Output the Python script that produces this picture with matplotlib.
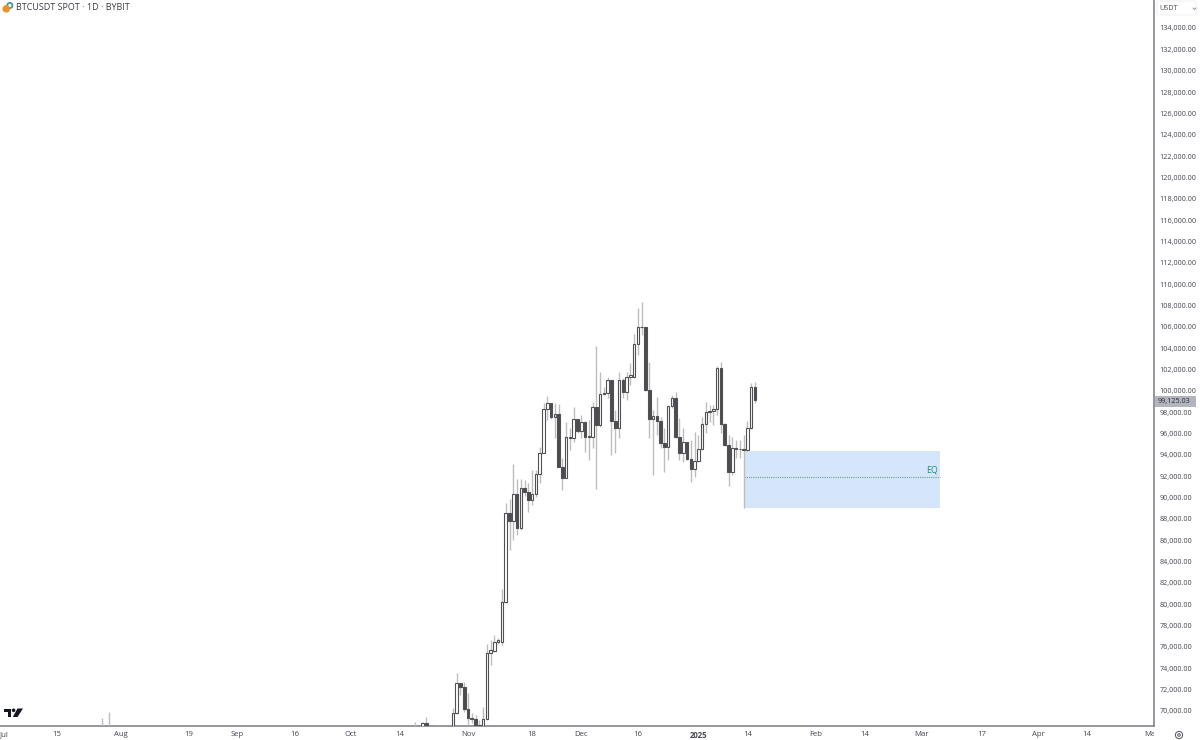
import matplotlib
matplotlib.use('Agg')
import matplotlib.pyplot as plt
import matplotlib.dates as mdates
from matplotlib.patches import Circle, Polygon, Rectangle, FancyBboxPatch
from matplotlib.transforms import Bbox
import pandas as pd

plt.rcParams['font.family'] = ['Open Sans', 'DejaVu Sans']

# daily candles, 28 Oct 2024 - 16 Jan 2025
dates = pd.date_range('2024-10-28', '2025-01-16')
opens = [
    68300, 69840, 72595, 72277,
    70159, 69372, 69222, 68700, 67800, 69279, 75463, 75650, 76437, 76494,
    80242, 88580, 87803, 90305, 87119, 90868, 90493, 89771, 90333, 92179,
    94203, 98270, 98832, 97520, 97829, 92891, 91860, 95702, 95552, 97332,
    96264, 97107, 95702, 95702, 98485, 96798, 99675, 99825, 101015, 97202,
    96489, 101015, 99918, 101323, 101323, 104360, 105953, 106009, 100078, 97360,
    97669, 97173, 95084, 94765, 98579, 99357, 95645, 94203, 95177, 93612, 92648,
    93453, 94521, 96919, 98044, 98138, 98270, 102168, 96863, 94924, 92423,
    94671, 94549, 94521, 94456, 96489, 100387,
]
closes = [
    69840, 72595, 72277, 70159,
    69372, 69222, 68700, 67800, 69279, 75463, 75716, 76437, 76625, 80242,
    88580, 87803, 90305, 87119, 90868, 90493, 89771, 90333, 92207, 94203,
    98270, 98832, 97520, 97829, 92891, 91860, 95702, 95552, 97332, 96264,
    97107, 95702, 95740, 98485, 96798, 99675, 99825, 101015, 97202, 96489,
    101015, 99918, 101323, 101455, 104360, 105953, 106009, 100078, 97360, 97669,
    97173, 95084, 94765, 98579, 99357, 95645, 94203, 95177, 93612, 92648, 93453,
    94521, 96919, 98044, 98138, 98270, 102168, 96863, 94924, 92423, 94671,
    94549, 94521, 94502, 96489, 100387, 99125.03,
]
highs = [
    70253, 73532, 72650, 72700,
    71687, 69840, 69625, 69157, 70403, 76278, 76653, 77121, 76840, 81403,
    89462, 89836, 93144, 91711, 91711, 91645, 91336, 92582, 92582, 94708,
    98832, 99516, 98832, 98832, 98766, 93707, 97107, 96517, 98513, 97332,
    97735, 97170, 97267, 98982, 104200, 101792, 100387, 101323, 101015, 98204,
    101792, 101202, 101764, 102608, 105296, 107733, 108295, 106009, 102730, 98204,
    99450, 97576, 96489, 98579, 99609, 99862, 97426, 96517, 95177, 95392, 96170,
    95861, 97576, 98925, 98672, 98672, 102326, 102674, 96950, 95861, 95702,
    95392, 95392, 95861, 97173, 100696, 100825,
]
lows = [
    67500, 69700, 71500, 69934,
    68688, 68876, 67500, 66800, 67500, 69200, 74310, 75556, 76278, 76184,
    80100, 85086, 86023, 86491, 86960, 90100, 88675, 89302, 90052, 91336,
    94174, 97267, 97400, 95552, 92863, 90708, 91832, 94456, 95234, 96049,
    95552, 94296, 93519, 94615, 90773, 96611, 99609, 99328, 93987, 94146,
    95552, 99328, 99141, 100546, 101230, 103357, 105231, 100000, 95552, 92113,
    95861, 94615, 92423, 93519, 98391, 95552, 93519, 93359, 93500, 91486, 91954,
    93359, 94456, 96021, 97107, 96798, 97735, 96021, 94800, 91111, 92113,
    93707, 93707, 89021, 94400, 96400, 98900,
]

# older candles that only just reach into the view
early_dates = pd.to_datetime(['2024-07-27', '2024-07-29', '2024-10-18', '2024-10-20',
                              '2024-10-21', '2024-10-24', '2024-10-25'])
early_opens = [67000, 68000, 67000, 68400, 68900, 66700, 68100]
early_closes = [68000, 68200, 68400, 68900, 67500, 68100, 66600]
early_highs = [69344, 69934, 68997, 68997, 69440, 68688, 68688]
early_lows = [66500, 66500, 66500, 68000, 66500, 65200, 65500]

y_ticks = list(range(70000, 136000, 2000))
x_tick_dates = ['2024-07-01', '2024-07-15', '2024-08-01', '2024-08-19', '2024-09-01',
                '2024-09-16', '2024-10-01', '2024-10-14', '2024-11-01', '2024-11-18',
                '2024-12-01', '2024-12-16', '2025-01-01', '2025-01-14', '2025-02-01',
                '2025-02-14', '2025-03-01', '2025-03-17', '2025-04-01', '2025-04-14',
                '2025-05-01']
x_tick_labels = ['Jul', '15', 'Aug', '19', 'Sep', '16', 'Oct', '14', 'Nov', '18', 'Dec',
                 '16', '2025', '14', 'Feb', '14', 'Mar', '17', 'Apr', '14', 'May']

last_price = 99125.03
box_start, box_end = '2025-01-13', '2025-03-06'
box_top, box_eq, box_bottom = 94362, 91926, 89021

TEXT = '#434651'
AXIS = '#787b86'

fig = plt.figure(figsize=(12, 7.4), dpi=100, facecolor='white')
ax = fig.add_axes([0, 14 / 740, 1154 / 1200, 726 / 740])

# 3.776 px per day, Nov 1 sits at x=468
nov1 = mdates.date2num(pd.Timestamp('2024-11-01'))
ax.set_xlim(nov1 - 468 / 3.776, nov1 + (1154 - 468) / 3.776)
ax.set_ylim(70000 - 15 * 93.7, 70000 + 711 * 93.7)

# order zone
x0 = mdates.date2num(pd.Timestamp(box_start))
x1 = mdates.date2num(pd.Timestamp(box_end))
ax.add_patch(Rectangle((x0, box_bottom), x1 - x0, box_top - box_bottom,
                       facecolor='#d5e6fb', edgecolor='none', zorder=1))
ax.plot([x0, x1], [box_eq, box_eq], color='#6f9a96', lw=0.8, ls=(0, (1, 1)), zorder=2)
ax.text(x1 - 0.6, box_eq + 280, 'EQ', color='#1f8f7c', fontsize=6.4, ha='right', va='bottom', zorder=3)


def draw_candles(days, o, h, l, c):
    xs = mdates.date2num(days)
    ax.vlines(xs, l, h, color='#bdbdbd', lw=1.0, zorder=3)
    for x, op, cl in zip(xs, o, c):
        up = cl >= op
        ax.bar(x, abs(cl - op), bottom=min(op, cl), width=0.68,
               facecolor='white' if up else '#4b4b50', edgecolor='#505055',
               linewidth=0.8, zorder=4)


draw_candles(early_dates, early_opens, early_highs, early_lows, early_closes)
draw_candles(dates, opens, highs, lows, closes)

# axes
ax.spines['top'].set_visible(False)
ax.spines['left'].set_visible(False)
ax.spines['right'].set_color(AXIS)
ax.spines['right'].set_linewidth(1.1)
ax.spines['bottom'].set_color(AXIS)
ax.spines['bottom'].set_linewidth(1.1)
ax.yaxis.tick_right()
ax.set_yticks(y_ticks)
ax.set_yticklabels([f'{v:,.2f}' for v in y_ticks], fontsize=5.2, color=TEXT)
ax.tick_params(axis='y', length=0, pad=3.8)
ax.set_xticks(mdates.date2num(pd.to_datetime(x_tick_dates)))
ax.set_xticklabels(x_tick_labels, fontsize=5.6, color=TEXT)
ax.tick_params(axis='x', length=0, pad=3.6)
for lab in ax.get_xticklabels():
    if lab.get_text() == '2025':
        lab.set_fontweight('bold')
    if lab.get_text() == 'May':
        lab.set_clip_box(Bbox([[0, 0], [1154, 740]]))
        lab.set_clip_on(True)

# overlay in pixels for the chart furniture
ov = fig.add_axes([0, 0, 1, 1], facecolor='none')
ov.set_xlim(0, 1200)
ov.set_ylim(740, 0)
ov.axis('off')

ov.add_patch(Circle((9.8, 5.5), 2.6, facecolor='none', edgecolor='#3f9c94', lw=1.3))
ov.add_patch(Circle((6.3, 8.8), 3.8, facecolor='#f0902c', edgecolor='none'))
ov.text(16, 8, 'BTCUSDT SPOT · 1D · BYBIT', fontsize=6.5, color='#3a3d47', va='center', ha='left')

ov.add_patch(FancyBboxPatch((1157, 1), 39, 14, boxstyle='round,pad=0,rounding_size=2',
                            facecolor='white', edgecolor='#eeeeee', lw=0.6))
ov.text(1159, 8, 'USDT', fontsize=5.2, color='#4a4a4a', va='center', ha='left')
ov.plot([1193, 1194.5, 1196], [8, 9.5, 8], color='#8a8a8a', lw=0.6)

ov.add_patch(Rectangle((1155, 396), 41, 10.5, facecolor='#b2b5be', edgecolor='none'))
ov.text(1158, 401.2, f'{last_price:,.2f}', fontsize=5.2, color='#2a2e39', va='center', ha='left')

# tradingview mark
ov.add_patch(Polygon([(4, 708.5), (11.3, 708.5), (11.3, 717), (7.5, 717), (7.5, 712), (4, 712)],
                     facecolor='#131722', edgecolor='none'))
ov.add_patch(Circle((13.6, 710.3), 1.8, facecolor='#131722', edgecolor='none'))
ov.add_patch(Polygon([(17.5, 708.5), (23, 708.5), (17.5, 717), (12.8, 717)],
                     facecolor='#131722', edgecolor='none'))

# settings icon
ov.add_patch(Circle((1179, 735), 3.6, facecolor='none', edgecolor='#50535e', lw=0.7))
ov.add_patch(Circle((1179, 735), 1.3, facecolor='none', edgecolor='#50535e', lw=0.7))

fig.savefig('out.png', dpi=100)
